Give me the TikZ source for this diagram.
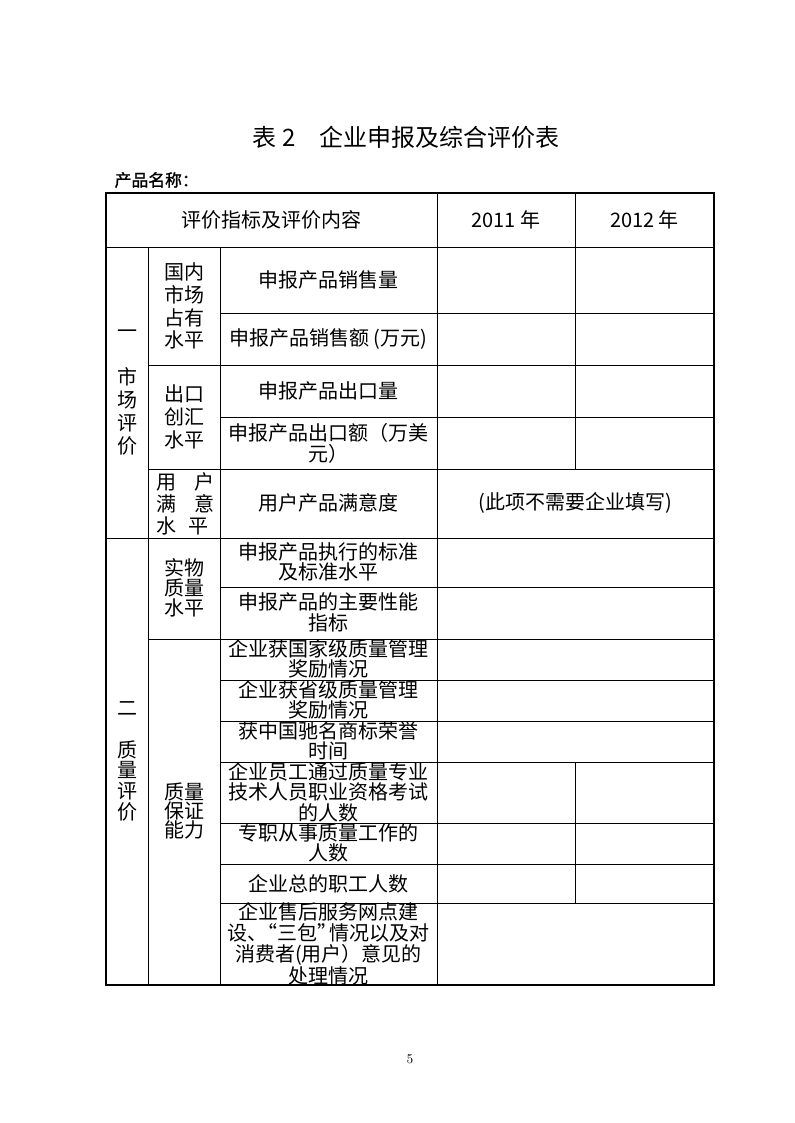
\documentclass[tikz,border=0pt]{standalone}
\usepackage{fontspec}
\newfontfamily\cjk{Noto Sans CJK SC}
\newfontfamily\cjkb[FakeBold=1.5]{Noto Sans CJK SC}
\usepackage{tikz}

\begin{document}
\begin{tikzpicture}[
    x=0.75pt, y=-0.75pt,
    cell/.style={align=center, inner sep=0pt, font=\cjk\fontsize{15}{15.5}\selectfont},
    tallcell/.style={cell, font=\cjk\fontsize{15}{17.2}\selectfont},
    tightcell/.style={cell, font=\cjk\fontsize{15}{14.6}\selectfont},
    frame/.style={line width=1.3pt},
    rule/.style={line width=0.75pt}
]

% Page
\fill[white] (0,0) rectangle (794,1123);
\useasboundingbox (0,0) rectangle (794,1123);

% Title and product name
\node[font=\cjk\fontsize{18}{20}\selectfont] (title) at (406,137) {表 2\hspace{1em}企业申报及综合评价表};
\node[anchor=west, font=\cjkb\fontsize{12.6}{14}\selectfont] (prodname) at (110,180) {产品名称：};

% Table frame
\draw[frame] (106,193) rectangle (714,985);

% Horizontal rules
\draw[rule] (106,247) -- (714,247);
\draw[rule] (220,313) -- (714,313);
\draw[rule] (148,365) -- (714,365);
\draw[rule] (220,417) -- (714,417);
\draw[rule] (148,469) -- (714,469);
\draw[rule] (106,538) -- (714,538);
\draw[rule] (220,587) -- (714,587);
\draw[rule] (148,639) -- (714,639);
\foreach \y in {680,721,762,823,864,903}
    \draw[rule] (220,\y) -- (714,\y);

% Vertical rules
\draw[rule] (148,247) -- (148,985);
\draw[rule] (220,247) -- (220,985);
\draw[rule] (437,193) -- (437,985);
\draw[rule] (575,193) -- (575,469);
\draw[rule] (575,762) -- (575,903);

% Header row
\node[cell] (head) at (271.5,220) {评价指标及评价内容};
\node[cell] (y2011) at (506,220) {2011 年};
\node[cell] (y2012) at (644.5,220) {2012 年};

% Part one: market
\node[tallcell] (market) at (127,392.5) {一\\[17.2pt]市\\场\\评\\价};
\node[tallcell] (domestic) at (184,306) {国内\\市场\\占有\\水平};
\node[tallcell] (export) at (184,417) {出口\\创汇\\水平};
\node[cell, align=left, font=\cjk\fontsize{15}{16.5}\selectfont] (satisfy) at (185,504)
    {用\hspace{13.5pt}户\\满\hspace{13.5pt}意\\水\hspace{9pt}平};

\node[cell] (salesvol) at (328.5,280) {申报产品销售量};
\node[cell] (salesamt) at (328.5,339) {申报产品销售额 (万元)};
\node[cell] (exportvol) at (328.5,391) {申报产品出口量};
\node[cell] (exportamt) at (328.5,443.5) {申报产品出口额（万美\\元）};
\node[cell] (userdeg) at (328.5,503) {用户产品满意度};
\node[cell] (nofill) at (575.5,503) {(此项不需要企业填写)};

% Part two: quality
\node[cell] (quality) at (127,761.5) {二\\[15.5pt]质\\量\\评\\价};
\node[cell, font=\cjk\fontsize{15}{15}\selectfont] (physical) at (184,588) {实物\\质量\\水平};
\node[tightcell] (assure) at (184,811) {质量\\保证\\能力};

\node[cell] (standard) at (328.5,562) {申报产品执行的标准\\及标准水平};
\node[cell] (perform) at (328.5,612.5) {申报产品的主要性能\\指标};
\node[cell, font=\cjk\fontsize{15}{15}\selectfont] (nataward) at (328.5,658.5) {企业获国家级质量管理\\奖励情况};
\node[cell, font=\cjk\fontsize{15}{15}\selectfont] (provaward) at (328.5,699.5) {企业获省级质量管理\\奖励情况};
\node[cell, font=\cjk\fontsize{15}{15}\selectfont] (brand) at (328.5,740.5) {获中国驰名商标荣誉\\时间};
\node[cell] (qualified) at (328.5,792) {企业员工通过质量专业\\技术人员职业资格考试\\的人数};
\node[cell] (fulltime) at (328.5,843) {专职从事质量工作的\\人数};
\node[cell] (staff) at (328.5,883.5) {企业总的职工人数};
\node[cell] (service) at (328.5,944) {企业售后服务网点建\\设、\kern-7pt“三包”\kern-6pt情况以及对\\消费者(用户）意见的\\处理情况};

% Page number
\node[font=\rmfamily\fontsize{10}{12}\selectfont] (pagenum) at (410,1059) {5};

\end{tikzpicture}
\end{document}
